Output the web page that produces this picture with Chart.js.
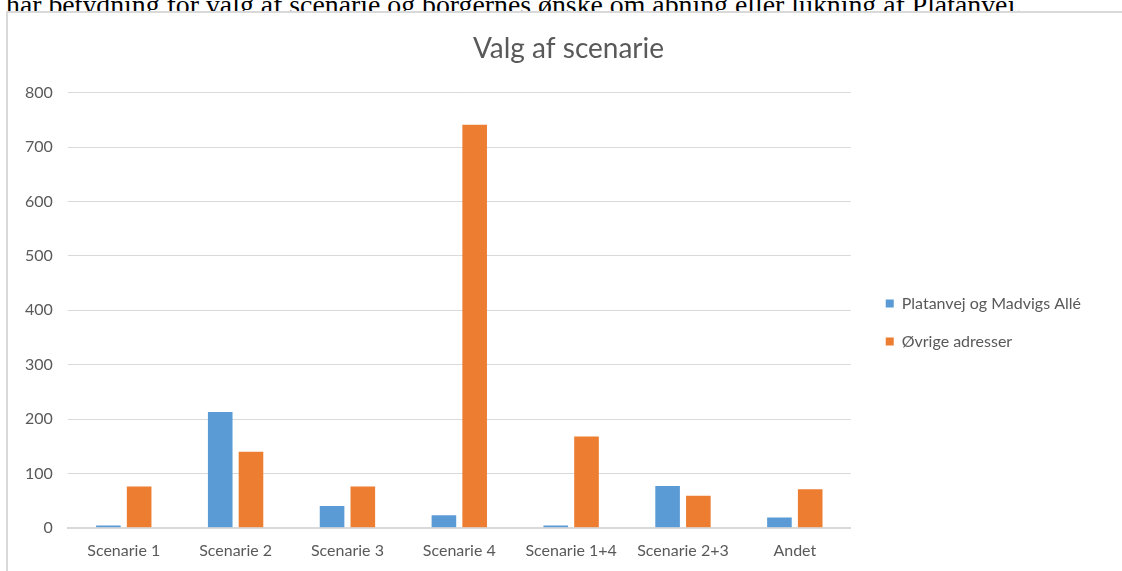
<!DOCTYPE html>
<html lang="da">
<head>
    <meta charset="UTF-8">
    <title>Valg af scenarie</title>
    <script src="https://cdn.jsdelivr.net/npm/chart.js"></script>
    <style>
        body {
            margin: 0;
            padding: 0;
            background: #ffffff;
            overflow: hidden;
        }

        /* afskåret tekstlinje fra dokumentet over diagrammet */
        .doc-line {
            position: absolute;
            left: 6px;
            top: -11px;
            font-family: 'Liberation Serif', 'Times New Roman', serif;
            font-size: 27.8px;
            font-weight: normal;
            color: #000;
            white-space: nowrap;
        }

        .chart-box {
            position: absolute;
            left: 6px;
            top: 11px;
            width: 1130px;
            height: 600px;
            border: 2px solid #d9d9d9;
            background: #fff;
        }

        .chart-box canvas {
            position: absolute;
            left: 0;
            top: 0;
        }
    </style>
</head>
<body>
    <div class="doc-line">har betydning for valg af scenarie og borgernes ønske om åbning eller lukning af Platanvej.</div>

    <div class="chart-box">
        <canvas id="scenarieChart" width="1114" height="590"></canvas>
    </div>

    <script>
        const categories = ['Scenarie 1', 'Scenarie 2', 'Scenarie 3', 'Scenarie 4', 'Scenarie 1+4', 'Scenarie 2+3', 'Andet'];
        const platanvej = [4, 213, 40, 23, 4, 77, 19];
        const oevrige = [76, 140, 76, 741, 168, 59, 71];
        const yTicks = [0, 100, 200, 300, 400, 500, 600, 700, 800];

        const grey = '#595959';
        const fontName = "Lato, 'Open Sans', sans-serif";

        // titlen står lidt til højre for midten i originalen
        const titleShift = {
            id: 'titleShift',
            afterLayout(chart) {
                if (chart.titleBlock) chart.titleBlock.left += 36;
            }
        };

        const ctx = document.getElementById('scenarieChart').getContext('2d');
        const scenarieChart = new Chart(ctx, {
            type: 'bar',
            data: {
                labels: categories,
                datasets: [
                    { label: 'Platanvej og Madvigs Allé', data: platanvej, backgroundColor: '#5b9bd5' },
                    { label: 'Øvrige adresser', data: oevrige, backgroundColor: '#ed7d31' }
                ]
            },
            options: {
                responsive: false,
                animation: false,
                categoryPercentage: 0.55,
                barPercentage: 0.8,
                layout: {
                    padding: { left: 2, right: 31, top: 0, bottom: 38 }
                },
                scales: {
                    x: {
                        grid: { display: false },
                        border: { color: '#d9d9d9', width: 2 },
                        ticks: {
                            color: grey,
                            font: { family: fontName, size: 16 },
                            padding: 5
                        }
                    },
                    y: {
                        min: 0,
                        max: 800,
                        afterBuildTicks: axis => {
                            axis.ticks = yTicks.map(v => ({ value: v }));
                        },
                        border: { display: false },
                        grid: { color: '#d9d9d9', lineWidth: 1, drawTicks: false },
                        ticks: {
                            color: grey,
                            font: { family: fontName, size: 16 },
                            padding: 15
                        }
                    },
                    // tom akse til højre: giver luft mellem plotområde og forklaring
                    spacer: {
                        position: 'right',
                        grid: { display: false },
                        border: { display: false },
                        ticks: { display: false },
                        afterFit: axis => { axis.width = 13; }
                    }
                },
                plugins: {
                    title: {
                        display: true,
                        text: 'Valg af scenarie',
                        color: grey,
                        font: { family: fontName, size: 28, weight: 'normal' },
                        padding: { top: 19, bottom: 27 }
                    },
                    legend: {
                        position: 'right',
                        maxWidth: 260,
                        // usynlig titel skubber forklaringen lidt ned
                        title: {
                            display: true,
                            text: ' ',
                            font: { size: 1 },
                            padding: { top: 66, bottom: 0 }
                        },
                        labels: {
                            color: grey,
                            font: { family: fontName, size: 16 },
                            boxWidth: 8,
                            boxHeight: 8,
                            padding: 22
                        }
                    },
                    tooltip: { enabled: false }
                }
            },
            plugins: [titleShift]
        });
    </script>
</body>
</html>
